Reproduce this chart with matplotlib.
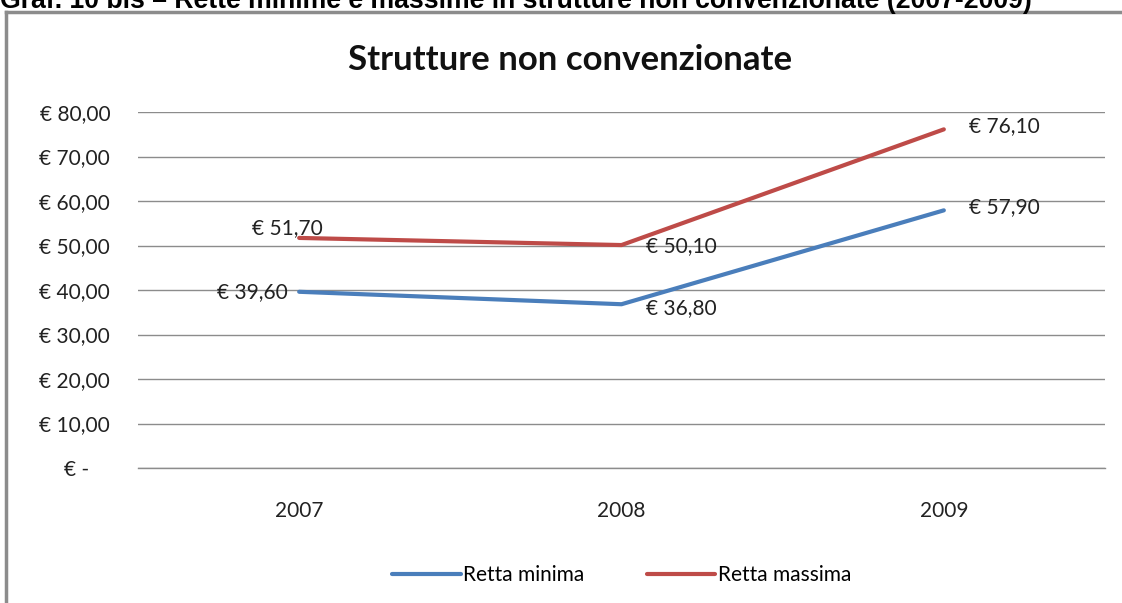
import matplotlib.pyplot as plt
from matplotlib.lines import Line2D

years = ['2007', '2008', '2009']
retta_minima = [39.60, 36.80, 57.90]
retta_massima = [51.70, 50.10, 76.10]
yticks = [0, 10, 20, 30, 40, 50, 60, 70, 80]


def euro(v):
    if v == 0:
        return '€ -    '
    return '€ ' + ('%.2f' % v).replace('.', ',')


plt.rcParams['font.family'] = ['Lato', 'DejaVu Sans']

fig = plt.figure(figsize=(11.22, 6.03), dpi=100)
W, H = 1122, 603

# caption above the chart box (cut at top like the source)
fig.text(0.0, 1 - 8 / H, 'Graf. 10 bis – Rette minime e massime in strutture non convenzionate (2007-2009)',
         fontsize=19.2, fontweight='bold', family='Liberation Sans', va='baseline', ha='left')

# chart border (top and left)
fig.add_artist(Line2D([6 / W, 1], [1 - 12 / H, 1 - 12 / H], color='#8c8c8c', lw=2.5))
fig.add_artist(Line2D([6 / W, 6 / W], [0, 1 - 12 / H], color='#8c8c8c', lw=2.5))

ax = fig.add_axes([138 / W, (H - 468) / H, (1105 - 138) / W, (468 - 112) / H])
x = range(len(years))
ax.plot(x, retta_minima, color='#4A7EBB', lw=3, label='Retta minima', solid_capstyle='round')
ax.plot(x, retta_massima, color='#BE4B48', lw=3, label='Retta massima', solid_capstyle='round')

ax.set_xlim(-0.5, len(years) - 0.5)
ax.set_ylim(0, 80)
ax.set_yticks(yticks)
ax.set_yticklabels([euro(v) for v in yticks])
ax.set_xticks(list(x))
ax.set_xticklabels(years)
ax.tick_params(axis='y', length=0, pad=20, labelsize=15, colors='#222222')
ax.tick_params(axis='x', length=0, pad=24, labelsize=15, colors='#222222')
ax.grid(axis='y', color='#8c8c8c', lw=1)
ax.axhline(0, color='#8c8c8c', lw=1, clip_on=False, zorder=0.5)
ax.set_axisbelow(True)
for s in ax.spines.values():
    s.set_visible(False)

# data labels
offsets_min = [(-8, 0, 'right', 'center'), (18, -3, 'left', 'center'), (18, 2, 'left', 'center')]
offsets_max = [(17, 7, 'right', 'center'), (18, -1, 'left', 'center'), (18, 2, 'left', 'center')]
for i, v in enumerate(retta_minima):
    dx, dy, ha, va = offsets_min[i]
    ax.annotate(euro(v), (i, v), xytext=(dx, dy), textcoords='offset points',
                ha=ha, va=va, fontsize=15, color='#222222')
for i, v in enumerate(retta_massima):
    dx, dy, ha, va = offsets_max[i]
    ax.annotate(euro(v), (i, v), xytext=(dx, dy), textcoords='offset points',
                ha=ha, va=va, fontsize=15, color='#222222')

fig.text(570 / W, 1 - 60 / H, 'Strutture non convenzionate', fontsize=25, fontweight='bold',
         ha='center', va='center', color='#111111')

ax.legend(loc='center', bbox_to_anchor=(0.5, -(575 - 468) / (468 - 112)), ncol=2, frameon=False,
          fontsize=15, handlelength=3.3, handletextpad=0.1, columnspacing=3.0)

fig.savefig('out.png', dpi=100)
